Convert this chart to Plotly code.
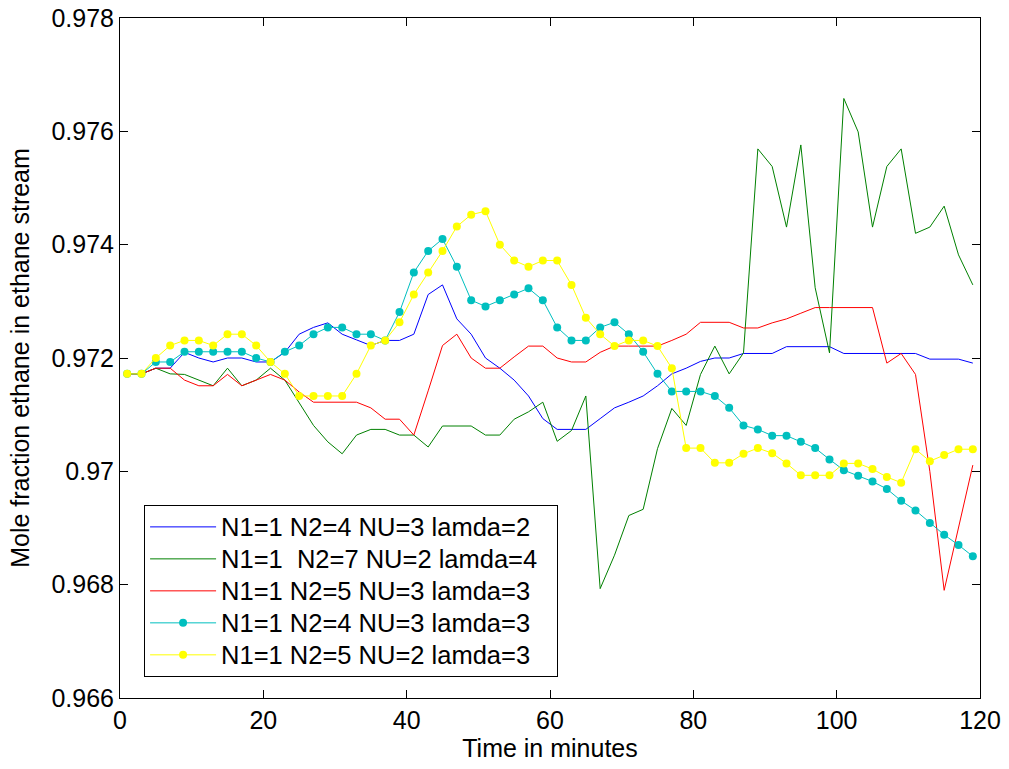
import plotly.graph_objects as go

# Sample times (minutes)
time_min = list(range(1, 120, 2))

# Mole fraction of ethane in the ethane stream for each tuning
blue_n4_nu3_l2 = [
    0.97172, 0.97172, 0.97182, 0.97182, 0.97210, 0.97200, 0.97193, 0.97200, 0.97200, 0.97193,
    0.97193, 0.97210, 0.97242, 0.97254, 0.97262, 0.97242, 0.97232, 0.97222, 0.97231, 0.97231,
    0.97242, 0.97312, 0.97329, 0.97269, 0.97242, 0.97200, 0.97182, 0.97161, 0.97133, 0.97093,
    0.97074, 0.97074, 0.97074, 0.97093, 0.97112, 0.97122, 0.97133, 0.97151, 0.97172, 0.97182,
    0.97194, 0.97200, 0.97200, 0.97208, 0.97208, 0.97208, 0.97220, 0.97220, 0.97220, 0.97220,
    0.97208, 0.97208, 0.97208, 0.97208, 0.97208, 0.97208, 0.97198, 0.97198, 0.97198, 0.97191,
]
green_n7_nu2_l4 = [
    0.97172, 0.97172, 0.97182, 0.97172, 0.97171, 0.97161, 0.97151, 0.97182, 0.97151, 0.97161,
    0.97182, 0.97161, 0.97122, 0.97081, 0.97052, 0.97031, 0.97064, 0.97074, 0.97074, 0.97064,
    0.97064, 0.97043, 0.97080, 0.97080, 0.97080, 0.97064, 0.97064, 0.97092, 0.97105, 0.97122,
    0.97053, 0.97072, 0.97133, 0.96793, 0.96852, 0.96922, 0.96933, 0.97040, 0.97111, 0.97081,
    0.97171, 0.97221, 0.97172, 0.97209, 0.97569, 0.97538, 0.97431, 0.97576, 0.97324, 0.97209,
    0.97658, 0.97599, 0.97431, 0.97538, 0.97569, 0.97420, 0.97431, 0.97468, 0.97382, 0.97329,
]
red_n5_nu3_l3 = [
    0.97172, 0.97172, 0.97182, 0.97182, 0.97161, 0.97151, 0.97151, 0.97171, 0.97151, 0.97161,
    0.97171, 0.97161, 0.97140, 0.97122, 0.97122, 0.97122, 0.97122, 0.97112, 0.97092, 0.97092,
    0.97064, 0.97142, 0.97222, 0.97242, 0.97200, 0.97182, 0.97182, 0.97202, 0.97221, 0.97221,
    0.97200, 0.97193, 0.97193, 0.97210, 0.97221, 0.97221, 0.97221, 0.97221, 0.97231, 0.97242,
    0.97263, 0.97263, 0.97263, 0.97253, 0.97253, 0.97262, 0.97269, 0.97279, 0.97289, 0.97289,
    0.97289, 0.97289, 0.97289, 0.97191, 0.97208, 0.97171, 0.97000, 0.96790, 0.96899, 0.97011,
]
cyan_n4_nu3_l3 = [
    0.97172, 0.97172, 0.97193, 0.97193, 0.97211, 0.97211, 0.97211, 0.97211, 0.97211, 0.97200,
    0.97193, 0.97211, 0.97222, 0.97242, 0.97254, 0.97254, 0.97242, 0.97242, 0.97231, 0.97281,
    0.97351, 0.97389, 0.97410, 0.97361, 0.97302, 0.97291, 0.97302, 0.97312, 0.97323, 0.97302,
    0.97254, 0.97231, 0.97231, 0.97254, 0.97263, 0.97242, 0.97211, 0.97172, 0.97141, 0.97141,
    0.97141, 0.97133, 0.97112, 0.97081, 0.97074, 0.97063, 0.97063, 0.97052, 0.97041, 0.97021,
    0.97002, 0.96992, 0.96982, 0.96969, 0.96948, 0.96931, 0.96909, 0.96888, 0.96870, 0.96850,
]
yellow_n5_nu2_l3 = [
    0.97172, 0.97172, 0.97200, 0.97222, 0.97231, 0.97231, 0.97222, 0.97242, 0.97242, 0.97222,
    0.97193, 0.97172, 0.97133, 0.97133, 0.97133, 0.97133, 0.97172, 0.97222, 0.97231, 0.97263,
    0.97312, 0.97351, 0.97389, 0.97432, 0.97453, 0.97459, 0.97400, 0.97372, 0.97361, 0.97372,
    0.97372, 0.97329, 0.97271, 0.97242, 0.97221, 0.97231, 0.97231, 0.97221, 0.97182, 0.97041,
    0.97041, 0.97015, 0.97015, 0.97031, 0.97041, 0.97032, 0.97014, 0.96993, 0.96993, 0.96993,
    0.97014, 0.97014, 0.97004, 0.96990, 0.96980, 0.97039, 0.97018, 0.97029, 0.97039, 0.97039,
]

series_names = [
    "N1=1 N2=4 NU=3 lamda=2",
    "N1=1\u00a0 N2=7 NU=2 lamda=4",
    "N1=1 N2=5 NU=3 lamda=3",
    "N1=1 N2=4 NU=3 lamda=3",
    "N1=1 N2=5 NU=2 lamda=3",
]

x_ticks = [0, 20, 40, 60, 80, 100, 120]
y_ticks = [0.966, 0.968, 0.970, 0.972, 0.974, 0.976, 0.978]
y_tick_text = ["0.966", "0.968", "0.97", "0.972", "0.974", "0.976", "0.978"]

FONT = "Liberation Sans, Arial, sans-serif"

styles = [
    dict(color="#0000ff", markers=False),
    dict(color="#008000", markers=False),
    dict(color="#ff0000", markers=False),
    dict(color="#00bfbf", markers=True),
    dict(color="#ffff00", markers=True),
]
values = [blue_n4_nu3_l2, green_n7_nu2_l4, red_n5_nu3_l3, cyan_n4_nu3_l3, yellow_n5_nu2_l3]

fig = go.Figure()
for name, ys, st in zip(series_names, values, styles):
    fig.add_trace(go.Scatter(
        x=time_min, y=ys,
        # legend rows use a tighter line spacing than the label size;
        # trailing no-break spaces leave some room before the frame
        name=f'<span style="font-size:25.5px">{name}\u00a0\u00a0</span>',
        mode="lines+markers" if st["markers"] else "lines",
        line=dict(color=st["color"], width=1),
        marker=dict(color=st["color"], size=8, line=dict(width=0)),
    ))

axis_common = dict(
    showline=True, linecolor="black", linewidth=1, mirror="ticks",
    ticks="inside", ticklen=8, tickcolor="black", tickwidth=1,
    showgrid=False, zeroline=False, automargin=False,
    tickfont=dict(family=FONT, size=25, color="black"),
)

fig.update_layout(
    width=1009, height=769,
    margin=dict(l=120, r=29, t=18, b=71),
    paper_bgcolor="white", plot_bgcolor="white",
    font=dict(family=FONT, size=25, color="black"),
    showlegend=True,
    legend=dict(
        x=0.028, y=0.284, xanchor="left", yanchor="top",
        bgcolor="white", bordercolor="black", borderwidth=1,
        font=dict(family=FONT, size=22.3, color="black"),
        itemwidth=66, tracegroupgap=0,
    ),
    xaxis=dict(
        range=[0, 120], tickvals=x_ticks,
        title=dict(text="Time in minutes", font=dict(family=FONT, size=25), standoff=6),
        **axis_common,
    ),
    yaxis=dict(
        range=[0.966, 0.978], tickvals=y_ticks, ticktext=y_tick_text,
        title=dict(text="Mole fraction ethane in ethane stream", font=dict(family=FONT, size=25), standoff=14),
        **axis_common,
    ),
)

fig.write_html("out.html")
